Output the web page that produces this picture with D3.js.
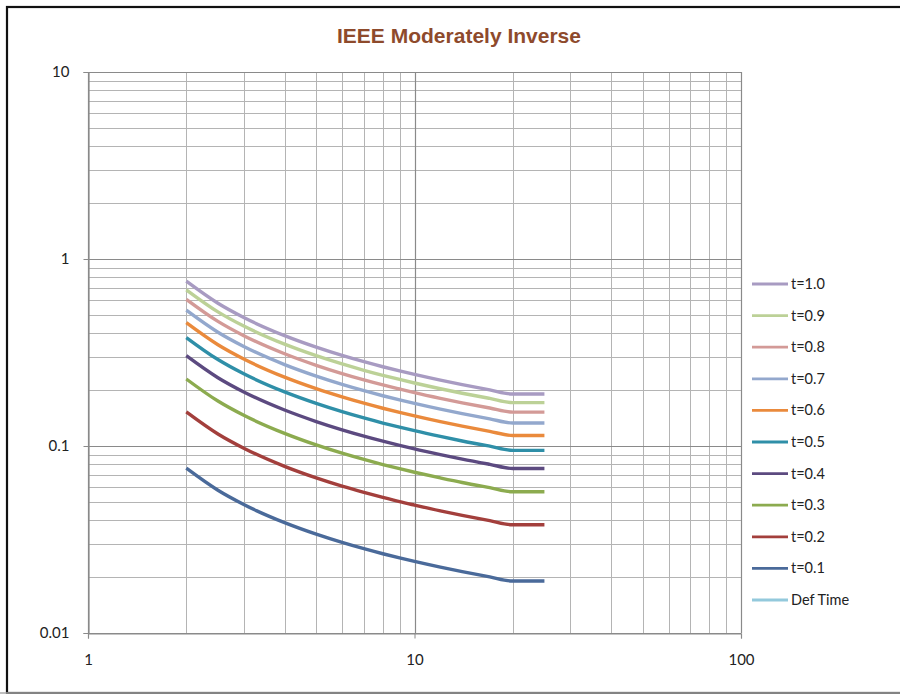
<!DOCTYPE html>
<html><head><meta charset="utf-8">
<script src="https://cdn.jsdelivr.net/npm/d3@7"></script>
<style>body{margin:0;background:#fff}svg{display:block}</style>
</head><body>
<svg id="c" width="900" height="694"></svg>
<script>
const multiples = [2,2.5,3,4,5,6,7,8,9,10,12,14,17,20,25];
const seriesNames = ["t=1.0","t=0.9","t=0.8","t=0.7","t=0.6","t=0.5","t=0.4","t=0.3","t=0.2","t=0.1","Def Time"];
const t10 = [0.7606,0.5797,0.4864,0.3892,0.3377,0.3051,0.2823,0.2653,0.2521,0.2413,0.2249,0.2128,0.1995,0.1896,0.1896];
const t09 = [0.6845,0.5217,0.4378,0.3503,0.3039,0.2746,0.2541,0.2388,0.2269,0.2172,0.2024,0.1915,0.1796,0.1706,0.1706];
const t08 = [0.6085,0.4638,0.3891,0.3114,0.2702,0.2441,0.2258,0.2122,0.2017,0.1930,0.1799,0.1702,0.1596,0.1517,0.1517];
const t07 = [0.5324,0.4058,0.3405,0.2724,0.2364,0.2136,0.1976,0.1857,0.1765,0.1689,0.1574,0.1490,0.1397,0.1327,0.1327];
const t06 = [0.4564,0.3478,0.2918,0.2335,0.2026,0.1831,0.1694,0.1592,0.1513,0.1448,0.1349,0.1277,0.1197,0.1138,0.1138];
const t05 = [0.3803,0.2899,0.2432,0.1946,0.1689,0.1526,0.1412,0.1327,0.1261,0.1207,0.1125,0.1064,0.0998,0.0948,0.0948];
const t04 = [0.3042,0.2319,0.1946,0.1557,0.1351,0.1220,0.1129,0.1061,0.1008,0.0965,0.0900,0.0851,0.0798,0.0758,0.0758];
const t03 = [0.2282,0.1739,0.1459,0.1168,0.1013,0.0915,0.0847,0.0796,0.0756,0.0724,0.0675,0.0638,0.0599,0.0569,0.0569];
const t02 = [0.1521,0.1159,0.0973,0.0778,0.0675,0.0610,0.0565,0.0531,0.0504,0.0483,0.0450,0.0426,0.0399,0.0379,0.0379];
const t01 = [0.07606,0.05797,0.04864,0.03892,0.03377,0.03051,0.02823,0.02653,0.02521,0.02413,0.02249,0.02128,0.01995,0.01896,0.01896];
const defTime = [];
const seriesValues = [t10,t09,t08,t07,t06,t05,t04,t03,t02,t01,defTime];
const colors = ["#a89bc2","#bcd197","#d39a97","#93a8cd","#ea8a3c","#2f8fa8","#5c4a80","#8cab4f","#a33f3c","#4a6a9a","#93c9dc"];
const xTicks = [1,10,100];
const yTicks = [0.01,0.1,1,10];
const xTickLabels = ["1","10","100"];
const yTickLabels = ["0.01","0.1","1","10"];

const svg = d3.select("#c");
const L=88, R=741, T=72, B=633;
const x = d3.scaleLog().domain([1,100]).range([L,R]);
const y = d3.scaleLog().domain([0.01,10]).range([B,T]);
const font = "Lato, 'Open Sans', sans-serif";

// frame
svg.append("rect").attr("x",7).attr("y",7).attr("width",900).attr("height",686)
  .attr("fill","#fff").attr("stroke","#111").attr("stroke-width",2.2);
svg.append("line").attr("x1",0).attr("x2",900).attr("y1",693).attr("y2",693).attr("stroke","#aaa").attr("stroke-width",1.5);

const g = svg.append("g");
const minorX=[], minorY=[];
[1,10].forEach(d=>{for(let k=2;k<=9;k++)minorX.push(d*k);});
[0.01,0.1,1].forEach(d=>{for(let k=2;k<=9;k++)minorY.push(+(d*k).toPrecision(3));});
g.selectAll(".mx").data(minorX).join("line")
  .attr("x1",d=>Math.round(x(d))+0.5).attr("x2",d=>Math.round(x(d))+0.5).attr("y1",T).attr("y2",B)
  .attr("stroke","#b4b4b4").attr("stroke-width",1);
g.selectAll(".my").data(minorY).join("line")
  .attr("y1",d=>Math.round(y(d))+0.5).attr("y2",d=>Math.round(y(d))+0.5).attr("x1",L).attr("x2",R)
  .attr("stroke","#b4b4b4").attr("stroke-width",1);
g.selectAll(".Mx").data(xTicks).join("line")
  .attr("x1",d=>Math.round(x(d))+0.5).attr("x2",d=>Math.round(x(d))+0.5).attr("y1",T).attr("y2",B)
  .attr("stroke","#8a8a8a").attr("stroke-width",1.2);
g.selectAll(".My").data(yTicks).join("line")
  .attr("y1",d=>Math.round(y(d))+0.5).attr("y2",d=>Math.round(y(d))+0.5).attr("x1",L).attr("x2",R)
  .attr("stroke","#8a8a8a").attr("stroke-width",1.2);

const yAxis = d3.axisLeft(y).tickValues(yTicks).tickFormat((d,i)=>yTickLabels[i]).tickSize(5).tickPadding(14);
const xAxis = d3.axisBottom(x).tickValues(xTicks).tickFormat((d,i)=>xTickLabels[i]).tickSize(5).tickPadding(16);
const ya = svg.append("g").attr("transform",`translate(${L+0.5},0)`).call(yAxis);
const xa = svg.append("g").attr("transform",`translate(0,${B+0.5})`).call(xAxis);
[ya,xa].forEach(a=>{
  a.select(".domain").attr("stroke","#8a8a8a").attr("stroke-width",1.2);
  a.selectAll(".tick line").attr("stroke","#8a8a8a");
  a.selectAll("text").attr("font-family",font).attr("font-size",15).attr("fill","#222");
});

const line = d3.line().x(d=>x(d[0])).y(d=>y(d[1])).curve(d3.curveMonotoneX);
seriesValues.forEach((vals,i)=>{
  if(!vals.length) return;
  svg.append("path").datum(vals.map((v,j)=>[multiples[j],v]))
    .attr("d",line).attr("fill","none").attr("stroke",colors[i]).attr("stroke-width",3.4)
    .attr("stroke-linejoin","round");
});

const lg = svg.append("g");
seriesNames.forEach((n,i)=>{
  const yy = 284 + i*31.6;
  lg.append("line").attr("x1",752).attr("x2",788).attr("y1",yy).attr("y2",yy).attr("stroke",colors[i]).attr("stroke-width",2.8);
  lg.append("text").attr("x",791).attr("y",yy+5).text(n)
    .attr("font-family",font).attr("font-size",14.5).attr("fill","#222");
});

svg.append("text").attr("x",459).attr("y",43).attr("text-anchor","middle")
  .attr("font-family","'Liberation Sans', Arial, sans-serif").attr("font-weight","bold").attr("font-size",21)
  .attr("fill","#8e4a2c").text("IEEE Moderately Inverse");
</script>
</body></html>
